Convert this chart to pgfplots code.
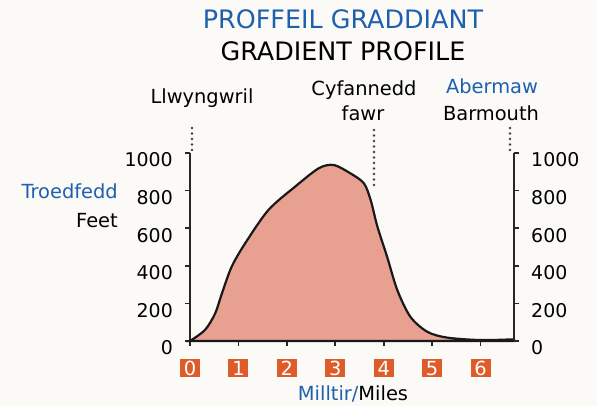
\documentclass[border=0pt]{standalone}
\usepackage{fontspec}
\setmainfont{DejaVu Sans}
\usepackage{pgfplots}
\pgfplotsset{compat=1.18}
\definecolor{bg}{RGB}{251,250,246}
\definecolor{salmon}{RGB}{232,160,144}
\definecolor{boxor}{RGB}{222,92,42}
\definecolor{tblue}{RGB}{30,96,176}
\newcommand\fs[1]{\fontsize{#1}{#1}\selectfont}
\begin{document}
\begin{tikzpicture}[x=1bp,y=1bp]
\fill[bg] (0,0) rectangle (597,406);
\pgfplotsset{common/.style={
  at={(190bp,65bp)}, anchor=south west, scale only axis,
  width=324bp, height=188bp,
  xmin=0, xmax=6.69, ymin=0, ymax=1000,
  ytick={0,200,...,1000},
  tick align=outside, major tick length=5bp,
  tick style={line width=1.6bp, black!85},
  axis line style={line width=2.4bp, black!85},
  clip=false,
  /pgf/number format/assume math mode=true,
  /pgf/number format/1000 sep={},
}}
\begin{axis}[common,
  axis x line*=bottom, axis y line*=left,
  xtick={0,...,6},
  xticklabel style={fill=boxor, text=white, minimum width=20bp, minimum height=18bp,
    inner sep=0pt, font=\fs{19.5}, anchor=north, yshift=-13bp},
  yticklabel style={font=\fs{19}, anchor=east, inner sep=0pt, xshift=-12bp, yshift=-7bp},
]
\addplot[fill=salmon, draw=black!90, line width=2.2bp, smooth, tension=0.5] coordinates {
(0,0) (0.31,59) (0.52,147) (0.66,254) (0.86,395) (1.14,520) (1.62,697) (2.17,821)
(2.66,919) (2.97,936) (3.31,892) (3.59,839) (3.73,750) (3.87,608) (4.07,448)
(4.28,271) (4.55,129) (4.90,49) (5.31,18) (6.0,5) (6.69,9)} \closedcycle;
\end{axis}
\begin{axis}[common,
  axis y line*=right, axis x line=none,
  yticklabel style={font=\fs{19}, anchor=west, inner sep=0pt, xshift=12bp, yshift=-7bp},
]
\end{axis}
% dotted guide lines
\begin{scope}[black!75, line width=2.8bp, line cap=round, dash pattern=on 0pt off 5.5bp]
\draw (192,256) -- (192,280);
\draw (374,221) -- (374,280);
\draw (510,256) -- (510,280);
\end{scope}
% texts
\node[anchor=base, tblue, font=\fs{25.5}] at (343,378) {PROFFEIL GRADDIANT};
\node[anchor=base, black, font=\fs{25.5}] at (343,346) {GRADIENT PROFILE};
\node[anchor=base, font=\fs{19.5}] at (202,303) {Llwyngwril};
\node[anchor=base, font=\fs{19.5}] at (364,311) {Cyfannedd};
\node[anchor=base, font=\fs{19.5}] at (363,286) {fawr};
\node[anchor=base, tblue, font=\fs{19.5}] at (492,313) {Abermaw};
\node[anchor=base, font=\fs{19.5}] at (491,286) {Barmouth};
\node[anchor=base east, tblue, font=\fs{19.5}, inner sep=0pt] at (118,208) {Troedfedd};
\node[anchor=base east, font=\fs{19.5}, inner sep=0pt] at (118,179) {Feet};
\node[anchor=base, font=\fs{19.5}] at (353,6) {\textcolor{tblue}{Milltir/}Miles};
\pgfresetboundingbox
\useasboundingbox (0,0) rectangle (597,406);
\end{tikzpicture}
\end{document}
